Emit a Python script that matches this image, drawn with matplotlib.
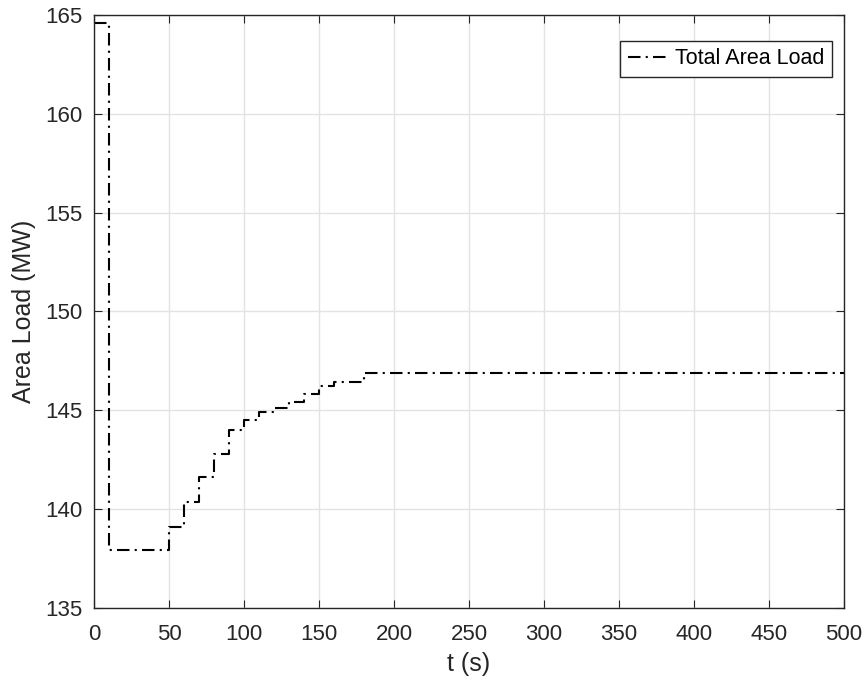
import matplotlib.pyplot as plt
import numpy as np

# step times (s) and area load (MW) held after each time
t_steps = [0, 10, 50, 60, 70, 80, 90, 100, 110, 120, 130, 140, 150, 160, 180, 500]
load = [164.6, 137.9, 139.1, 140.35, 141.6, 142.8, 144.0, 144.5, 144.9, 145.1,
        145.4, 145.8, 146.2, 146.4, 146.9, 146.9]

plt.rcParams['font.family'] = ['Liberation Sans', 'DejaVu Sans']

fig = plt.figure(figsize=(8.66, 6.86), dpi=100)
ax = fig.add_axes([0.1085, 0.1141, 0.866, 0.864])

ax.step(t_steps, load, where='post', color='black', linewidth=1.5,
        linestyle=(0, (6, 2.5, 1, 2.5)), label='Total Area Load')

ax.set_xlim(0, 500)
ax.set_ylim(135, 165)
ax.set_xticks(np.arange(0, 501, 50))
ax.set_yticks(np.arange(135, 166, 5))
ax.grid(True, color='#e3e3e3', linewidth=1)
ax.set_axisbelow(True)

for s in ax.spines.values():
    s.set_color('#262626')
    s.set_linewidth(1)
ax.tick_params(direction='in', top=True, right=True, length=6,
               labelsize=16, colors='#262626')
ax.tick_params(axis='x', pad=12)
ax.tick_params(axis='y', pad=8)

ax.set_xlabel('t (s)', fontsize=18, color='#262626', labelpad=5)
ax.set_ylabel('Area Load (MW)', fontsize=18, color='#262626', labelpad=7)

leg = ax.legend(loc='upper right', bbox_to_anchor=(0.984, 0.957),
                borderaxespad=0, fontsize=15.5, fancybox=False,
                edgecolor='#262626', framealpha=1, handlelength=1.9,
                handletextpad=0.3, borderpad=0.35)
leg.get_frame().set_linewidth(1)

fig.savefig('out.png', dpi=100)
